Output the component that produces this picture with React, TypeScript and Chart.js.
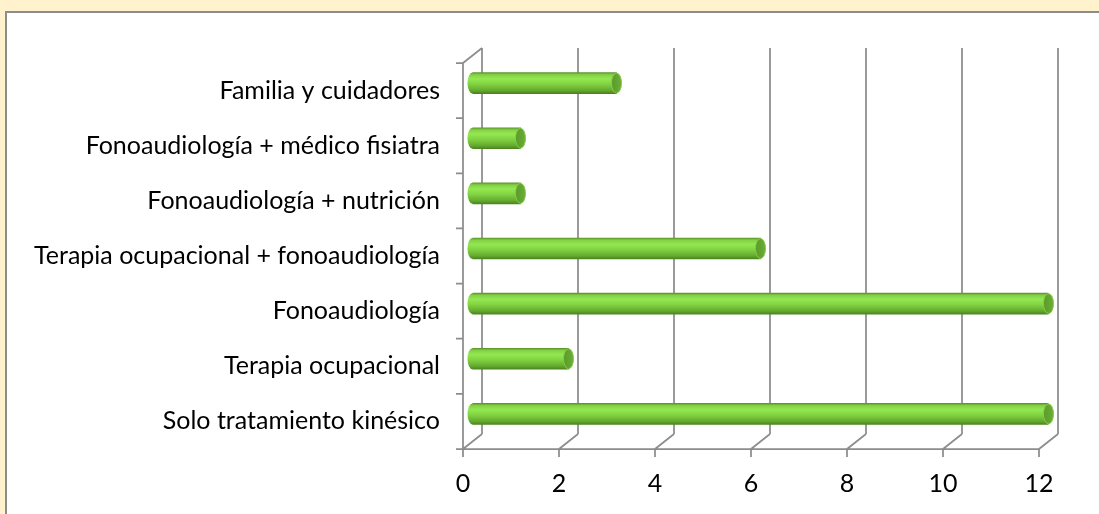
import React, { useEffect, useRef } from "react";
import { Chart, registerables } from "chart.js";
Chart.register(...registerables);

const categories = [
  "Familia y cuidadores",
  "Fonoaudiología + médico fisiatra",
  "Fonoaudiología + nutrición",
  "Terapia ocupacional + fonoaudiología",
  "Fonoaudiología",
  "Terapia ocupacional",
  "Solo tratamiento kinésico",
];
const values = [3, 1, 1, 6, 12, 2, 12];
const xTickValues = [0, 2, 4, 6, 8, 10, 12];

const DX = 9.5; // half depth, horizontal
const DY = 7.5; // half depth, vertical
const BAR_H = 21;
const CAP_RX = 5;
const GRID = "#8c8c8c";
const FONT = "Lato";

function cylGradient(ctx: CanvasRenderingContext2D, yc: number, h: number) {
  if (!isFinite(yc) || !isFinite(h) || h <= 0) return "#82d242";
  const g = ctx.createLinearGradient(0, yc - h / 2, 0, yc + h / 2);
  g.addColorStop(0, "#5a962a");
  g.addColorStop(0.1, "#84d044");
  g.addColorStop(0.3, "#93e852");
  g.addColorStop(0.55, "#82d242");
  g.addColorStop(0.85, "#64aa2e");
  g.addColorStop(1, "#4a8420");
  return g;
}

const axes3d = {
  id: "axes3d",
  beforeDatasetsDraw(chart: any) {
    const { ctx, scales } = chart;
    const x = scales.x;
    const y = scales.y;
    const n = categories.length;
    const fx = (v: number) => x.getPixelForValue(v) - DX;
    const fy = (k: number) => y.getPixelForValue(k - 0.5) + DY;
    const yTop = fy(0);
    const yBot = fy(n);
    ctx.save();
    ctx.strokeStyle = GRID;
    ctx.lineWidth = 1.75;
    ctx.lineCap = "butt";
    ctx.beginPath();
    for (const v of xTickValues) {
      const px = fx(v);
      ctx.moveTo(px + 2 * DX, yTop - 2 * DY);
      ctx.lineTo(px + 2 * DX, yBot - 2 * DY);
      ctx.moveTo(px, yBot);
      ctx.lineTo(px + 2 * DX, yBot - 2 * DY);
      ctx.moveTo(px, yBot);
      ctx.lineTo(px, yBot + 8);
    }
    ctx.moveTo(fx(0), yBot);
    ctx.lineTo(fx(12), yBot);
    ctx.moveTo(fx(0), yTop);
    ctx.lineTo(fx(0), yBot);
    ctx.moveTo(fx(0), yTop);
    ctx.lineTo(fx(0) + 2 * DX, yTop - 2 * DY);
    for (let k = 0; k <= n; k++) {
      const py = fy(k);
      ctx.moveTo(fx(0) - 7, py);
      ctx.lineTo(fx(0), py);
    }
    ctx.stroke();

    const meta = chart.getDatasetMeta(0);
    meta.data.forEach((el: any) => {
      const h = el.height;
      ctx.fillStyle = cylGradient(ctx, el.y, h);
      ctx.beginPath();
      ctx.ellipse(el.base, el.y, CAP_RX, h / 2, 0, 0, Math.PI * 2);
      ctx.fill();
    });
    ctx.restore();
  },
  afterDatasetsDraw(chart: any) {
    const { ctx } = chart;
    const meta = chart.getDatasetMeta(0);
    ctx.save();
    meta.data.forEach((el: any) => {
      const h = el.height;
      const g = ctx.createLinearGradient(el.x - CAP_RX, 0, el.x + CAP_RX, 0);
      g.addColorStop(0, "#5a9a2a");
      g.addColorStop(1, "#6cae36");
      ctx.fillStyle = g;
      ctx.strokeStyle = "#86cc4a";
      ctx.lineWidth = 1;
      ctx.beginPath();
      ctx.ellipse(el.x, el.y, CAP_RX, h / 2 - 0.5, 0, 0, Math.PI * 2);
      ctx.fill();
      ctx.stroke();
    });
    ctx.restore();
  },
};

export default function App() {
  const ref = useRef<HTMLCanvasElement | null>(null);
  useEffect(() => {
    const canvas = ref.current;
    if (!canvas) return;
    const chart = new Chart(canvas, {
      type: "bar",
      data: {
        labels: categories,
        datasets: [
          {
            data: values,
            barThickness: BAR_H,
            borderWidth: 0,
            backgroundColor: (c: any) => {
              const ch = c.chart;
              const ys = ch.scales && ch.scales.y;
              if (!ys || c.type !== "data") return "#82d242";
              const yc = ys.getPixelForValue(c.dataIndex);
              return cylGradient(ch.ctx, yc, BAR_H);
            },
          },
        ],
      },
      options: {
        indexAxis: "y",
        responsive: false,
        animation: false,
        devicePixelRatio: 1,
        layout: { padding: { left: 0, top: 55.5, right: 50.5, bottom: 12.5 } },
        plugins: { legend: { display: false }, tooltip: { enabled: false } },
        scales: {
          x: {
            type: "linear",
            min: 0,
            max: 12,
            afterFit: (s: any) => {
              s.height = 60;
            },
            grid: { display: false, drawTicks: false },
            border: { display: false },
            ticks: {
              stepSize: 2,
              padding: 27,
              labelOffset: -DX,
              color: "#000",
              font: { family: FONT, size: 25 },
            },
          },
          y: {
            type: "category",
            afterFit: (s: any) => {
              s.width = 472.5;
            },
            grid: { display: false, drawTicks: false },
            border: { display: false },
            ticks: {
              padding: 32.5,
              labelOffset: DY,
              color: "#000",
              autoSkip: false,
              font: { family: FONT, size: 25 },
            },
          },
        },
      },
      plugins: [axes3d],
    } as any);
    return () => chart.destroy();
  }, []);

  return (
    <div
      style={{
        position: "absolute",
        left: 0,
        top: 0,
        width: 1099,
        height: 514,
        overflow: "hidden",
        background: "#FFF2CC",
      }}
    >
      <div
        style={{
          position: "absolute",
          left: 5,
          top: 11,
          width: 1200,
          height: 600,
          border: "2px solid #8c8c8c",
          background: "#ffffff",
        }}
      />
      <canvas
        ref={ref}
        width={1099}
        height={514}
        style={{ position: "absolute", left: 0, top: 0, width: 1099, height: 514 }}
      />
    </div>
  );
}
